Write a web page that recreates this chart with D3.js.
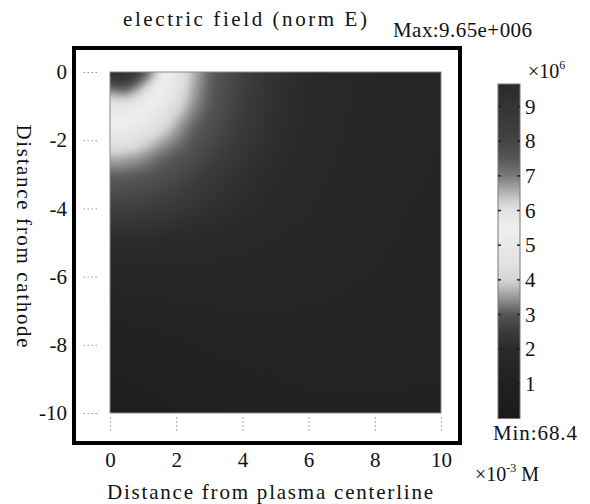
<!DOCTYPE html>
<html>
<head>
<meta charset="utf-8">
<script src="https://cdn.jsdelivr.net/npm/d3@7"></script>
<style>
  body { margin: 0; background: #fff; }
  svg { display: block; }
</style>
</head>
<body>
<div id="chart_div"></div>
<script>
// grid nodes (units of 1e-3 M)
const gridX = [0, 0.25, 0.5, 0.75, 1, 1.5, 2, 2.5, 3, 3.5, 4, 5, 6, 8, 10];
const gridDepth = [0, 0.25, 0.5, 0.75, 1, 1.5, 2, 2.5, 3, 3.5, 4, 5, 6, 8, 10];

// |E| in units of 1e6, one row per depth below the cathode
const fieldE = [
  [9.65, 9.5, 9.2, 8.8, 7.8, 5.9, 4.9, 3.75, 3.1, 2.85, 2.6, 2.2, 1.95, 1.65, 1.5],
  [8.0, 8.8, 8.6, 7.8, 7.0, 5.6, 4.85, 3.7, 3.1, 2.85, 2.6, 2.2, 1.95, 1.64, 1.5],
  [7.1, 7.3, 7.3, 6.8, 6.2, 5.45, 4.7, 3.6, 3.08, 2.83, 2.6, 2.2, 1.95, 1.63, 1.49],
  [6.2, 6.3, 6.3, 6.1, 5.85, 5.3, 4.5, 3.55, 3.05, 2.8, 2.57, 2.19, 1.94, 1.62, 1.48],
  [5.8, 5.85, 5.85, 5.75, 5.6, 5.1, 4.2, 3.45, 3.02, 2.78, 2.55, 2.17, 1.93, 1.61, 1.47],
  [5.5, 5.5, 5.45, 5.3, 5.1, 4.5, 3.7, 3.15, 2.92, 2.7, 2.5, 2.14, 1.91, 1.6, 1.46],
  [4.8, 4.75, 4.7, 4.5, 4.2, 3.7, 3.3, 3.0, 2.8, 2.6, 2.41, 2.1, 1.88, 1.58, 1.45],
  [3.7, 3.7, 3.6, 3.55, 3.45, 3.15, 3.0, 2.83, 2.65, 2.48, 2.3, 2.05, 1.85, 1.57, 1.44],
  [3.1, 3.1, 3.08, 3.05, 3.02, 2.92, 2.8, 2.65, 2.5, 2.36, 2.2, 2.0, 1.82, 1.55, 1.43],
  [2.85, 2.85, 2.83, 2.8, 2.78, 2.7, 2.6, 2.48, 2.36, 2.22, 2.12, 1.94, 1.79, 1.53, 1.42],
  [2.6, 2.6, 2.6, 2.57, 2.55, 2.5, 2.41, 2.3, 2.2, 2.12, 2.04, 1.88, 1.75, 1.5, 1.4],
  [2.0, 2.0, 2.0, 2.0, 2.0, 1.98, 1.95, 1.92, 1.88, 1.84, 1.8, 1.72, 1.64, 1.48, 1.38],
  [1.55, 1.56, 1.57, 1.58, 1.59, 1.6, 1.6, 1.6, 1.6, 1.59, 1.58, 1.55, 1.52, 1.44, 1.35],
  [1.05, 1.06, 1.08, 1.1, 1.12, 1.16, 1.2, 1.24, 1.27, 1.3, 1.32, 1.35, 1.36, 1.34, 1.28],
  [0.7, 0.72, 0.74, 0.76, 0.78, 0.84, 0.9, 0.95, 1.0, 1.04, 1.08, 1.14, 1.18, 1.2, 1.22]
];

// gray colormap of the colorbar (value -> gray)
const cmapValues = [0, 1, 2, 2.5, 3, 3.2, 3.5, 3.8, 4, 4.5, 5, 5.5, 6, 6.3, 6.6, 7, 7.5, 8, 9, 9.65];
const cmapGrays = ["#1a1a1a", "#202020", "#2a2a2a", "#3a3a3a", "#555555", "#707070", "#999999", "#c0c0c0",
  "#d6d6d6", "#e2e2e2", "#e8e8e8", "#efefef", "#e2e2e2", "#cccccc", "#aaaaaa", "#7a7a7a",
  "#575757", "#444444", "#343434", "#2a2a2a"];

const xTicks = [0, 2, 4, 6, 8, 10];
const yTicks = [0, -2, -4, -6, -8, -10];
const cbTicks = [1, 2, 3, 4, 5, 6, 7, 8, 9];
const eMax = 9.65;

const width = 590, height = 504;
const serif = "'Liberation Serif', 'Times New Roman', serif";

var svg = d3.select("#chart_div").append("svg")
    .attr("width", width)
    .attr("height", height)
    .attr("viewBox", [0, 0, width, height]);

// scales
var x = d3.scaleLinear().domain([0, 10]).range([110, 441]);
var y = d3.scaleLinear().domain([0, -10]).range([72, 413]);
var cb = d3.scaleLinear().domain([0, eMax]).range([418.5, 84]);
var color = d3.scaleLinear().domain(cmapValues).range(cmapGrays).clamp(true);

// thick outer frame
svg.append("rect")
    .attr("x", 74).attr("y", 48)
    .attr("width", 386).attr("height", 395)
    .attr("fill", "none")
    .attr("stroke", "#000")
    .attr("stroke-width", 4);

// field value at a point, bilinear between grid nodes
function fieldAt(xv, dv) {
  let i = Math.max(0, Math.min(d3.bisectRight(gridX, xv) - 1, gridX.length - 2));
  let j = Math.max(0, Math.min(d3.bisectRight(gridDepth, dv) - 1, gridDepth.length - 2));
  let tx = Math.max(0, Math.min(1, (xv - gridX[i]) / (gridX[i + 1] - gridX[i])));
  let ty = Math.max(0, Math.min(1, (dv - gridDepth[j]) / (gridDepth[j + 1] - gridDepth[j])));
  let a = fieldE[j][i] * (1 - tx) + fieldE[j][i + 1] * tx;
  let b = fieldE[j + 1][i] * (1 - tx) + fieldE[j + 1][i + 1] * tx;
  return a * (1 - ty) + b * ty;
}

// heatmap rendered to a padded canvas, softened, then cropped into the svg
var x0 = x(0), x1 = x(10), y0 = y(0), y1 = y(-10);
var W = Math.round(x1 - x0), H = Math.round(y1 - y0);
var pad = 10;
var raw = document.createElement("canvas");
raw.width = W + 2 * pad; raw.height = H + 2 * pad;
var rctx = raw.getContext("2d");
var img = rctx.createImageData(raw.width, raw.height);
for (let r = 0; r < raw.height; r++) {
  let dv = Math.max(0, Math.min(10, -y.invert(y0 + r - pad + 0.5)));
  for (let c = 0; c < raw.width; c++) {
    let xv = Math.max(0, Math.min(10, x.invert(x0 + c - pad + 0.5)));
    let col = d3.rgb(color(fieldAt(xv, dv)));
    let k = (r * raw.width + c) * 4;
    img.data[k] = col.r; img.data[k + 1] = col.g; img.data[k + 2] = col.b; img.data[k + 3] = 255;
  }
}
rctx.putImageData(img, 0, 0);

var canvas = document.createElement("canvas");
canvas.width = W; canvas.height = H;
var ctx = canvas.getContext("2d");
ctx.filter = "blur(3px)";
ctx.drawImage(raw, -pad, -pad);

svg.append("image")
    .attr("x", x0).attr("y", y0)
    .attr("width", W).attr("height", H)
    .attr("preserveAspectRatio", "none")
    .attr("href", canvas.toDataURL());

svg.append("rect")
    .attr("x", x0).attr("y", y0)
    .attr("width", W).attr("height", H)
    .attr("fill", "none")
    .attr("stroke", "#8a8a8a")
    .attr("stroke-width", 1);

function styleLabels(g) {
  g.attr("font-family", serif).attr("font-size", 21);
  g.selectAll(".tick text").attr("font-family", serif).attr("font-size", 21).attr("fill", "#111");
}

// left axis: dotted ticks + labels
svg.append("g")
    .attr("transform", "translate(97,0)")
    .call(d3.axisLeft(y).tickValues(yTicks).tickSize(15).tickPadding(15).tickFormat(d => String(d)))
    .call(g => g.select(".domain").remove())
    .call(g => g.selectAll(".tick line").attr("stroke", "#999").attr("stroke-dasharray", "1.5,2.5"))
    .call(styleLabels);

// bottom axis
svg.append("g")
    .attr("transform", "translate(0,417)")
    .call(d3.axisBottom(x).tickValues(xTicks).tickSize(16).tickPadding(19))
    .call(g => g.select(".domain").remove())
    .call(g => g.selectAll(".tick line").attr("stroke", "#999").attr("stroke-dasharray", "1.5,2.5"))
    .call(styleLabels);

// colorbar
var defs = svg.append("defs");
var grad = defs.append("linearGradient")
    .attr("id", "cbgrad")
    .attr("x1", 0).attr("y1", 1).attr("x2", 0).attr("y2", 0);
grad.selectAll("stop")
    .data(cmapValues)
    .join("stop")
    .attr("offset", d => d / eMax)
    .attr("stop-color", d => color(d));

svg.append("rect")
    .attr("x", 498).attr("y", cb(eMax))
    .attr("width", 22).attr("height", cb(0) - cb(eMax))
    .attr("fill", "url(#cbgrad)")
    .attr("stroke", "#777")
    .attr("stroke-width", 1);

var cbTickG = svg.append("g");
cbTickG.selectAll("line.l")
    .data(cbTicks).join("line")
    .attr("class", "l")
    .attr("x1", 498).attr("x2", 501)
    .attr("y1", d => cb(d)).attr("y2", d => cb(d))
    .attr("stroke", "#222").attr("stroke-width", 1.5);
cbTickG.selectAll("line.r")
    .data(cbTicks).join("line")
    .attr("class", "r")
    .attr("x1", 517).attr("x2", 520)
    .attr("y1", d => cb(d)).attr("y2", d => cb(d))
    .attr("stroke", "#222").attr("stroke-width", 1.5);

svg.append("g")
    .attr("transform", "translate(520,0)")
    .call(d3.axisRight(cb).tickValues(cbTicks).tickSize(0).tickPadding(5))
    .call(g => g.select(".domain").remove())
    .call(styleLabels);

// texts (serif, spaced out to the measured widths)
function wideText(txt, xPos, yPos, len) {
  return svg.append("text")
      .attr("x", xPos).attr("y", yPos)
      .attr("font-family", serif)
      .attr("font-size", 21)
      .attr("fill", "#111")
      .attr("textLength", len)
      .attr("lengthAdjust", "spacing")
      .text(txt);
}

wideText("electric field (norm E)", 123, 26, 244);
wideText("Max:9.65e+006", 393, 37, 139);
wideText("Min:68.4", 493, 440, 84);
wideText("Distance from plasma centerline", 107, 499, 326);

svg.append("text")
    .attr("transform", "translate(24,236) rotate(90)")
    .attr("text-anchor", "middle")
    .attr("dominant-baseline", "central")
    .attr("font-family", serif)
    .attr("font-size", 21)
    .attr("fill", "#111")
    .attr("textLength", 223)
    .attr("lengthAdjust", "spacing")
    .text("Distance from cathode");

// multipliers
var mul6 = svg.append("text")
    .attr("x", 528).attr("y", 78)
    .attr("font-family", serif).attr("font-size", 20).attr("fill", "#111");
mul6.append("tspan").text("×10");
mul6.append("tspan").attr("font-size", 12).attr("dy", -9).text("6");

var mul3 = svg.append("text")
    .attr("x", 475).attr("y", 481)
    .attr("font-family", serif).attr("font-size", 20).attr("fill", "#111");
mul3.append("tspan").text("×10");
mul3.append("tspan").attr("font-size", 12).attr("dy", -9).text("-3");
mul3.append("tspan").attr("dy", 9).text(" M");
</script>
</body>
</html>
